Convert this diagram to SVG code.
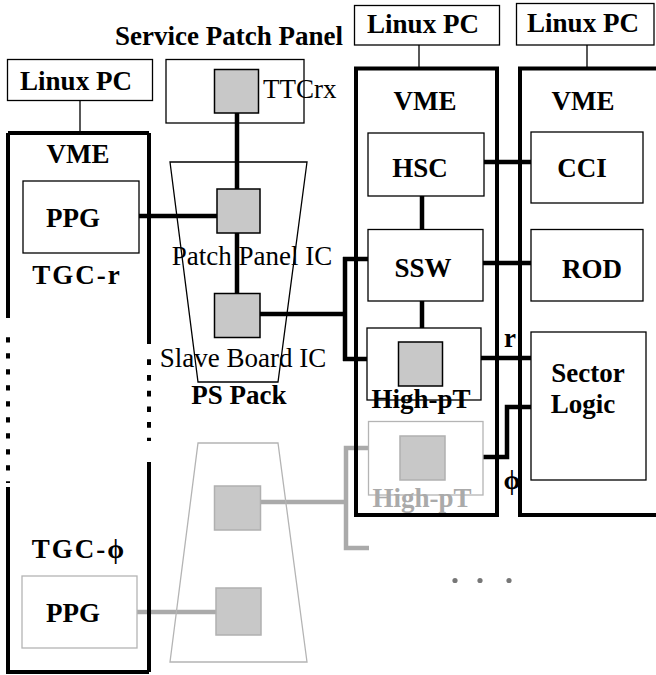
<svg xmlns="http://www.w3.org/2000/svg" width="656" height="675" viewBox="0 0 656 675">
<style>
text{font-family:"Liberation Serif","Times New Roman",serif;font-size:27px;fill:#000}
.b{font-weight:bold}
.m{text-anchor:middle}
.g{fill:#aaaaaa}
.thin{fill:none;stroke:#000;stroke-width:1.3}
.thinG{fill:none;stroke:#b4b4b4;stroke-width:1.3}
.vme{fill:none;stroke:#000;stroke-width:4}
.chip{fill:#c8c8c8;stroke:#000;stroke-width:1.5}
.chipG{fill:#c8c8c8;stroke:#b0b0b0;stroke-width:1.5}
.bus{fill:none;stroke:#000;stroke-width:4.5}
.busG{fill:none;stroke:#aaaaaa;stroke-width:4.5}
.hair{fill:none;stroke:#000;stroke-width:1.3}
</style>
<rect width="656" height="675" fill="#fff"/>

<g id="connectors">
  <!-- Linux PC to VME -->
  <path class="hair" d="M80,101 V131 M419,45 V67 M587,45 V67"/>
  <!-- TTCrx to Patch Panel IC to Slave Board IC -->
  <path class="bus" d="M237,113 V189 M237,233 V293"/>
  <!-- PPG to Patch Panel IC -->
  <path class="bus" d="M139,216 H217"/>
  <!-- Slave Board IC to SSW and High-pT -->
  <path class="bus" d="M260,314 H345 M345,257 V361 M343,259 H368 M343,359 H367"/>
  <!-- HSC - SSW - High-pT -->
  <path class="bus" d="M422,196 V229 M422,301 V328"/>
  <!-- HSC-CCI, SSW-ROD, High-pT-SL -->
  <path class="bus" d="M484,162 H531 M483,263 H531 M481,358 H531"/>
  <!-- gray High-pT to Sector Logic -->
  <path class="bus" d="M483,457 H507 V407 H531"/>
  <!-- gray connectors -->
  <path class="busG" d="M368,448 H346 V548 H369 M260,502 H346 M137,612 H216"/>
</g>

<g id="service-patch-panel-label">
  <text class="b m" x="229" y="45">Service Patch Panel</text>
</g>

<g id="linux-pc-left">
  <rect class="thin" x="7.5" y="59.5" width="145" height="41"/>
  <text class="b m" x="76" y="90">Linux PC</text>
</g>
<g id="linux-pc-mid">
  <rect class="thin" x="354.5" y="5.5" width="145" height="39.5"/>
  <text class="b m" x="423" y="33">Linux PC</text>
</g>
<g id="linux-pc-right">
  <rect class="thin" x="516.5" y="3.5" width="137.5" height="41.5"/>
  <text class="b m" x="583" y="32">Linux PC</text>
</g>

<g id="vme-left">
  <path class="vme" d="M8,133 H149 M8,133 V318 M8,487 V672 H149 M149,133 V344 M149,462 V672"/>
  <path class="vme" stroke-dasharray="5.3 10.7" d="M8,337.3 V483"/>
  <path class="vme" stroke-dasharray="5.7 10" d="M149,359.3 V441"/>
  <text class="b m" x="78" y="163">VME</text>
  <text class="b m" x="77" y="284" letter-spacing="2">TGC-r</text>
  <text class="b m" x="79" y="558" letter-spacing="2">TGC-ϕ</text>
</g>

<g id="ppg-top">
  <rect class="thin" x="23" y="181" width="116" height="72"/>
  <text class="b m" x="73" y="227">PPG</text>
</g>
<g id="ppg-bottom">
  <rect class="thinG" x="22" y="576" width="115" height="72"/>
  <text class="b m" x="73" y="622">PPG</text>
</g>

<g id="service-patch-panel">
  <rect class="thin" x="166" y="59.5" width="138" height="63.5"/>
  <rect class="chip" x="214.5" y="69.5" width="44" height="43.5"/>
  <text x="263" y="98">TTCrx</text>
</g>

<g id="ps-pack">
  <path class="thin" d="M170,162 H307 L278,382 H198 Z"/>
  <rect class="chip" x="217" y="189" width="43" height="44"/>
  <rect class="chip" x="214.5" y="293.5" width="45.5" height="44"/>
  <text class="m" x="252" y="265">Patch Panel IC</text>
  <text class="m" x="243" y="367">Slave Board IC</text>
  <text class="b m" x="239" y="404">PS Pack</text>
</g>

<g id="ps-pack-gray">
  <path class="thinG" d="M198,443 H278 L307,662 H170 Z"/>
  <rect class="chipG" x="214.5" y="486" width="46" height="44"/>
  <rect class="chipG" x="216" y="588" width="45" height="47"/>
</g>

<g id="vme-mid">
  <rect class="vme" x="356" y="68.5" width="141" height="446.5"/>
  <text class="b m" x="425" y="110">VME</text>
</g>
<g id="hsc">
  <rect class="thin" x="368" y="133" width="116" height="63"/>
  <text class="b m" x="420" y="177">HSC</text>
</g>
<g id="ssw">
  <rect class="thin" x="368" y="229.5" width="115" height="71.5"/>
  <text class="b m" x="423" y="277">SSW</text>
</g>
<g id="high-pt">
  <rect class="thin" x="367" y="328" width="114" height="72"/>
  <rect class="chip" x="398.5" y="342" width="44" height="44"/>
  <text class="b m" x="421" y="408">High-pT</text>
</g>
<g id="high-pt-gray">
  <rect class="thinG" x="368.5" y="421.5" width="114.5" height="73.5"/>
  <rect class="chipG" x="400" y="436" width="45" height="44"/>
  <text class="b m g" x="422" y="507">High-pT</text>
</g>

<g id="vme-right">
  <path class="vme" d="M662,68.5 H520 V515 H662"/>
  <text class="b m" x="583" y="110">VME</text>
</g>
<g id="cci">
  <rect class="thin" x="531" y="132" width="112" height="71"/>
  <text class="b m" x="582" y="177">CCI</text>
</g>
<g id="rod">
  <rect class="thin" x="531" y="229.5" width="112" height="71.5"/>
  <text class="b m" x="592" y="278">ROD</text>
</g>
<g id="sector-logic">
  <rect class="thin" x="531" y="332" width="115" height="148"/>
  <text class="b m" x="588" y="382">Sector</text>
  <text class="b m" x="583" y="413">Logic</text>
</g>

<g id="labels">
  <text class="b m" x="510" y="347">r</text>
  <text class="b m" x="512" y="489">ϕ</text>
</g>

<g id="dots" fill="#777">
  <circle cx="455" cy="580.5" r="2.6"/>
  <circle cx="480" cy="580.5" r="2.6"/>
  <circle cx="509" cy="580.5" r="2.6"/>
</g>
</svg>
